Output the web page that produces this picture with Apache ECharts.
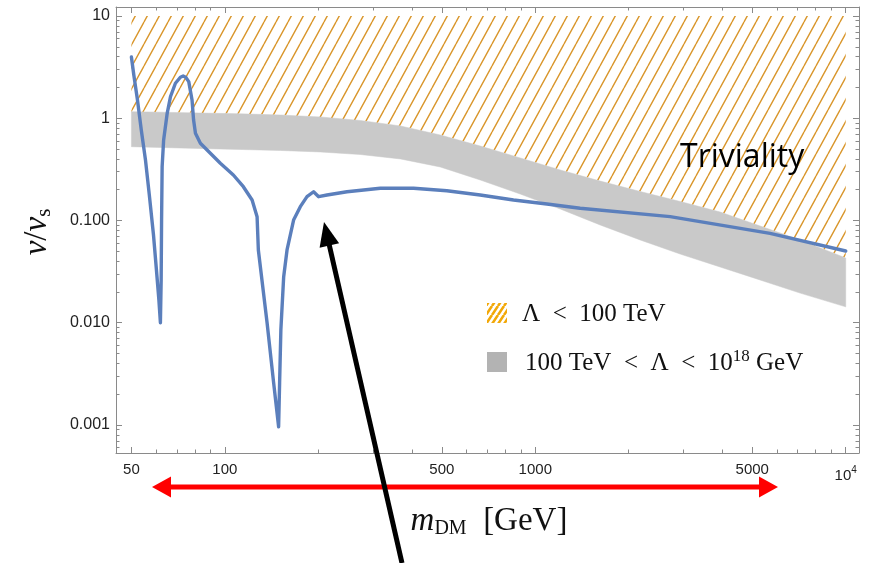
<!DOCTYPE html>
<html>
<head>
<meta charset="utf-8">
<script src="https://cdn.jsdelivr.net/npm/echarts@6/dist/echarts.min.js"></script>
<style>
  html, body { margin: 0; padding: 0; background: #fff; }
  #chart { width: 870px; height: 563px; }
</style>
</head>
<body>
<div id="chart"></div>
<script>
// Solution curve: dark-matter mass (GeV) and v / v_s
const curveMass = [
  50.0, 50.9, 52.3, 53.8, 55.5, 57.1, 58.9, 60.2, 61.3, 62.0,
  62.35, 62.54, 62.8, 63.5, 65.2, 66.8, 69.3, 71.9, 73.4, 74.8, 76.5, 78.4,
  79.3, 80.4, 83.4, 89.8, 96.7, 106.5, 114.7, 122.4, 127.0, 128.2,
  136.8, 143.6, 149.0, 150.1, 151.5, 154.7, 158.6, 166.5, 175.0, 183.9,
  193.1, 200.5, 213.3, 247.4, 316.7, 405.5, 519, 664.5, 850.8, 1090,
  1395, 2719, 5706, 10000
];
const curveRatio = [
  3.97, 2.65, 1.51, 0.767, 0.391, 0.178, 0.0722, 0.0328, 0.0167, 0.0100,
  0.0262, 0.101, 0.336, 0.613, 1.118, 1.624, 2.20, 2.52, 2.59, 2.52, 2.28, 1.508,
  0.961, 0.713, 0.569, 0.454, 0.3625, 0.2786, 0.214, 0.1587, 0.109, 0.0515,
  0.00994, 0.00258, 0.000962, 0.00258, 0.0085, 0.0282, 0.0515, 0.101, 0.1365, 0.171,
  0.191, 0.171, 0.1776, 0.191, 0.2065, 0.2065, 0.1956, 0.1776, 0.1587, 0.145,
  0.1316, 0.109, 0.0749, 0.0503
];

// Cut-off bands in (m_DM, v/v_s)
const bandMass  = [50, 62, 83, 112, 151, 203, 273, 368, 494, 665, 894, 1203, 1618, 2177, 2928, 3939, 5298, 7127, 10000];
const bandUpper = [1.159, 1.146, 1.125, 1.105, 1.076, 1.029, 0.951, 0.840, 0.686, 0.535, 0.409, 0.312, 0.243, 0.192, 0.1534, 0.121, 0.0884, 0.0645, 0.0430];
const bandLower = [0.527, 0.518, 0.506, 0.495, 0.484, 0.468, 0.442, 0.400, 0.334, 0.249, 0.1816, 0.1296, 0.0904, 0.0645, 0.0470, 0.0351, 0.0262, 0.0195, 0.0143];
const trivialityTop = 10;

// Axis ticks
const xMajor = [50, 100, 500, 1000, 5000, 10000];
const xMinor = [60, 70, 80, 90, 200, 300, 400, 600, 700, 800, 900, 2000, 3000, 4000, 6000, 7000, 8000, 9000];
const yMajor = [0.001, 0.01, 0.1, 1, 10];
const yLabels = ['0.001', '0.010', '0.100', '1', '10'];
const yMinor = [];
for (const dec of [0.0001, 0.001, 0.01, 0.1, 1]) {
  for (let k = 2; k <= 9; k++) yMinor.push(+(k * dec).toPrecision(3));
}

const xRange = [44.6, 11035];
const yRange = [0.000532, 12.25];

const frameColor = '#8a8a8a';
const tickFont = 'Liberation Sans, Arial, sans-serif';
const mathFont = 'Liberation Serif, Times New Roman, serif';

function hatchCanvas(w, h, color, lw, bg) {
  const c = document.createElement('canvas');
  c.width = w; c.height = h;
  const g = c.getContext('2d');
  if (bg) { g.fillStyle = bg; g.fillRect(0, 0, w, h); }
  g.strokeStyle = color;
  g.lineWidth = lw;
  g.beginPath();
  for (const dx of [-w, 0, w]) { g.moveTo(dx, h); g.lineTo(dx + w, 0); }
  g.stroke();
  return c;
}
const hatchFill = { image: hatchCanvas(12, 22, '#d9962b', 1.4), repeat: 'repeat' };
const swatchFill = { image: hatchCanvas(6, 9, '#f2a808', 2.6, '#ffffff'), repeat: 'repeat' };

function axis(kind, position, ticks, len, opts) {
  const a = {
    type: 'log',
    logBase: 10,
    position: position,
    min: kind === 'x' ? xRange[0] : yRange[0],
    max: kind === 'x' ? xRange[1] : yRange[1],
    splitLine: { show: false },
    axisLine: { show: !!opts.line, lineStyle: { color: frameColor, width: 1 } },
    axisTick: { show: true, inside: true, length: len, customValues: ticks,
                lineStyle: { color: frameColor, width: 1 } },
    axisLabel: { show: false },
    z: 3
  };
  if (opts.label) a.axisLabel = opts.label;
  return a;
}

const xLabel = {
  show: true,
  customValues: xMajor,
  margin: 9,
  color: '#222',
  fontFamily: tickFont,
  fontSize: 15,
  formatter: v => (Math.abs(v - 10000) < 1e-6 ? '{b|10}{p|4}' : String(Math.round(v))),
  rich: {
    b: { fontFamily: tickFont, fontSize: 15, color: '#222', padding: [6, 0, 0, 0] },
    p: { fontFamily: tickFont, fontSize: 10, color: '#222', padding: [0, 0, 4, 0] }
  }
};
const yLabel = {
  show: true,
  customValues: yMajor,
  margin: 6,
  color: '#222',
  fontFamily: tickFont,
  fontSize: 16,
  formatter: v => {
    const i = yMajor.findIndex(t => Math.abs(Math.log10(t) - Math.log10(v)) < 1e-6);
    return i >= 0 ? yLabels[i] : '';
  }
};

const chart = echarts.init(document.getElementById('chart'), null, { renderer: 'canvas' });

function polygonBetween(api, xs, lo, hi) {
  const pts = [];
  for (let i = 0; i < xs.length; i++) pts.push(api.coord([xs[i], hi[i]]));
  for (let i = xs.length - 1; i >= 0; i--) pts.push(api.coord([xs[i], lo[i]]));
  return pts;
}

// Arrow geometry for the annotation pointing at the curve's kink
const tip = [324, 222], tail = [402, 563];
const dir = (() => { const dx = tip[0] - tail[0], dy = tip[1] - tail[1]; const L = Math.hypot(dx, dy); return [dx / L, dy / L]; })();
const headLen = 24, headHalf = 10;
const headBase = [tip[0] - dir[0] * headLen, tip[1] - dir[1] * headLen];
const perp = [-dir[1], dir[0]];

chart.setOption({
  animation: false,
  grid: { left: 116, right: 11, top: 7, bottom: 110, containLabel: false, outerBoundsMode: 'none' },
  xAxis: [
    axis('x', 'bottom', xMajor, 6, { line: true, label: xLabel }),
    axis('x', 'bottom', xMinor, 3.5, {}),
    axis('x', 'top', xMajor, 6, { line: true }),
    axis('x', 'top', xMinor, 3.5, {})
  ],
  yAxis: [
    axis('y', 'left', yMajor, 6, { line: true, label: yLabel }),
    axis('y', 'left', yMinor, 3.5, {}),
    axis('y', 'right', yMajor, 6, { line: true }),
    axis('y', 'right', yMinor, 3.5, {})
  ],
  series: [
    {
      type: 'custom',
      name: 'Λ < 100 TeV',
      xAxisIndex: 0, yAxisIndex: 0,
      data: [[bandMass[0], trivialityTop]],
      z: 1,
      silent: true,
      renderItem: (params, api) => ({
        type: 'polygon',
        shape: { points: polygonBetween(api, bandMass, bandUpper, bandMass.map(() => trivialityTop)) },
        style: { fill: hatchFill, stroke: null }
      })
    },
    {
      type: 'custom',
      name: '100 TeV < Λ < 10^18 GeV',
      xAxisIndex: 0, yAxisIndex: 0,
      data: [[bandMass[0], bandUpper[0]]],
      z: 2,
      silent: true,
      renderItem: (params, api) => ({
        type: 'polygon',
        shape: { points: polygonBetween(api, bandMass, bandLower, bandUpper) },
        style: { fill: '#c9c9c9', stroke: '#c9c9c9', lineWidth: 0.5 }
      })
    },
    {
      type: 'line',
      name: 'v/vs',
      xAxisIndex: 0, yAxisIndex: 0,
      data: curveMass.map((m, i) => [m, curveRatio[i]]),
      showSymbol: false,
      smooth: false,
      z: 5,
      lineStyle: { color: '#5b7fbc', width: 3.4, join: 'round', cap: 'round' }
    }
  ],
  graphic: [
    // axis titles
    {
      type: 'text', x: 37, y: 232, rotation: Math.PI / 2, z: 50,
      style: {
        text: '{i|v}{n|/}{i|v}{s|s}',
        align: 'center', verticalAlign: 'middle',
        rich: {
          i: { fontFamily: mathFont, fontStyle: 'italic', fontSize: 33, fill: '#111' },
          n: { fontFamily: mathFont, fontSize: 33, fill: '#111' },
          s: { fontFamily: mathFont, fontSize: 21, fill: '#111', padding: [14, 0, 0, 0] }
        }
      }
    },
    {
      type: 'text', x: 489, y: 521, z: 50,
      style: {
        text: '{i|m}{s|DM}{n|\u2002[GeV]}',
        align: 'center', verticalAlign: 'middle',
        rich: {
          i: { fontFamily: mathFont, fontStyle: 'italic', fontSize: 33, fill: '#111' },
          s: { fontFamily: mathFont, fontSize: 20, fill: '#111', padding: [16, 0, 0, 0] },
          n: { fontFamily: mathFont, fontSize: 33, fill: '#111' }
        }
      }
    },
    // region label
    {
      type: 'text', x: 680, y: 158, z: 50,
      style: { text: 'Triviality', fontFamily: 'Open Sans', fontSize: 32, fill: '#000',
               align: 'left', verticalAlign: 'middle' }
    },
    // legend
    { type: 'rect', shape: { x: 487, y: 303, width: 20, height: 20 }, z: 50,
      style: { fill: swatchFill } },
    { type: 'text', x: 522, y: 314, z: 50,
      style: { text: 'Λ\u2002<\u2002100 TeV', fontFamily: mathFont, fontSize: 25, fill: '#111',
               align: 'left', verticalAlign: 'middle' } },
    { type: 'rect', shape: { x: 487, y: 352, width: 20, height: 20 }, z: 50,
      style: { fill: '#b3b3b3' } },
    { type: 'text', x: 525, y: 363, z: 50,
      style: {
        text: '{n|100 TeV\u2002<\u2002Λ\u2002<\u200210}{p|18}{n| GeV}',
        align: 'left', verticalAlign: 'middle',
        rich: {
          n: { fontFamily: mathFont, fontSize: 25, fill: '#111' },
          p: { fontFamily: mathFont, fontSize: 17, fill: '#111', padding: [0, 0, 12, 0] }
        }
      }
    },
    // red double-headed arrow under the mass axis
    { type: 'line', z: 60, shape: { x1: 166, y1: 487, x2: 764, y2: 487 },
      style: { stroke: '#ff0000', lineWidth: 5 } },
    { type: 'polygon', z: 60, shape: { points: [[152, 487], [171, 476.5], [171, 497.5]] },
      style: { fill: '#ff0000' } },
    { type: 'polygon', z: 60, shape: { points: [[778, 487], [759, 476.5], [759, 497.5]] },
      style: { fill: '#ff0000' } },
    // black pointer arrow
    { type: 'line', z: 70,
      shape: { x1: tail[0], y1: tail[1], x2: headBase[0] + dir[0] * 4, y2: headBase[1] + dir[1] * 4 },
      style: { stroke: '#000', lineWidth: 5 } },
    { type: 'polygon', z: 70,
      shape: { points: [tip,
        [headBase[0] + perp[0] * headHalf, headBase[1] + perp[1] * headHalf],
        [headBase[0] - perp[0] * headHalf, headBase[1] - perp[1] * headHalf]] },
      style: { fill: '#000' } }
  ]
});
</script>
</body>
</html>
